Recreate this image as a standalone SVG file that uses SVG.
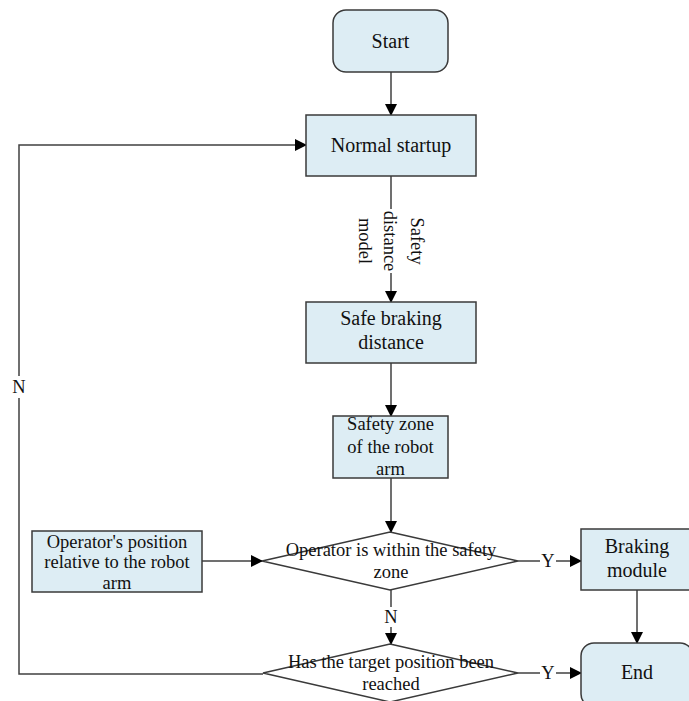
<svg xmlns="http://www.w3.org/2000/svg" width="689" height="701" viewBox="0 0 689 701">
<style>
.box{fill:#DDEDF4;stroke:#3a3a3a;stroke-width:1.5}
.dia{fill:#ffffff;stroke:#3a3a3a;stroke-width:1.5}
.ln{fill:none;stroke:#404040;stroke-width:1.5}
text{font-family:"Liberation Serif","Times New Roman",serif;fill:#111;text-anchor:middle}
.t20{font-size:20px}
.t18{font-size:18.5px}
.bg{fill:#ffffff}
</style>
<defs>
<marker id="ah" markerWidth="12" markerHeight="12" refX="11" refY="6" orient="auto" markerUnits="userSpaceOnUse">
<path d="M0,0 L12,6 L0,12 Z" fill="#000"/>
</marker>
</defs>
<rect width="689" height="701" fill="#ffffff"/>

<g id="connectors">
<line class="ln" x1="391" y1="72" x2="391" y2="115" marker-end="url(#ah)"/>
<line class="ln" x1="391" y1="176" x2="391" y2="302" marker-end="url(#ah)"/>
<line class="ln" x1="391" y1="363" x2="391" y2="416" marker-end="url(#ah)"/>
<line class="ln" x1="391" y1="478" x2="391" y2="532" marker-end="url(#ah)"/>
<line class="ln" x1="202" y1="561" x2="262" y2="561" marker-end="url(#ah)"/>
<line class="ln" x1="518" y1="561" x2="581" y2="561" marker-end="url(#ah)"/>
<line class="ln" x1="391" y1="590" x2="391" y2="644" marker-end="url(#ah)"/>
<line class="ln" x1="518" y1="673" x2="581" y2="673" marker-end="url(#ah)"/>
<line class="ln" x1="637" y1="590" x2="637" y2="643" marker-end="url(#ah)"/>
<polyline class="ln" points="263,674 19,674 19,145 306,145" marker-end="url(#ah)"/>
<g id="label-sdm" transform="translate(391,241) rotate(90)">
<rect class="bg" x="-32" y="-8" width="64" height="18"/>
<text class="t18" x="0" y="-20">Safety</text>
<text class="t18" x="0" y="7">distance</text>
<text class="t18" x="0" y="32">model</text>
</g>
<rect class="bg" x="540" y="552" width="16" height="18"/>
<text class="t18" x="548" y="567">Y</text>
<rect class="bg" x="540" y="664" width="16" height="18"/>
<text class="t18" x="548" y="679">Y</text>
<rect class="bg" x="382" y="607" width="18" height="20"/>
<text class="t18" x="391" y="623">N</text>
<rect class="bg" x="10" y="376" width="18" height="22"/>
<text class="t18" x="19" y="393">N</text>
</g>

<g id="start">
<rect class="box" x="333" y="10" width="115" height="62" rx="13"/>
<text class="t20" x="390.5" y="48">Start</text>
</g>
<g id="normal-startup">
<rect class="box" x="306" y="115" width="170" height="61"/>
<text class="t20" x="391" y="152">Normal startup</text>
</g>
<g id="safe-braking-distance">
<rect class="box" x="306" y="302" width="170" height="61"/>
<text class="t20" x="391" y="325">Safe braking</text>
<text class="t20" x="391" y="349">distance</text>
</g>
<g id="safety-zone">
<rect class="box" x="333" y="416" width="115" height="62"/>
<text class="t18" x="390.5" y="430">Safety zone</text>
<text class="t18" x="390.5" y="452.5">of the robot</text>
<text class="t18" x="390.5" y="475">arm</text>
</g>
<g id="operator-position">
<rect class="box" x="32" y="531" width="170" height="61"/>
<text class="t18" x="117" y="548">Operator's position</text>
<text class="t18" x="117" y="568">relative to the robot</text>
<text class="t18" x="117" y="589">arm</text>
</g>
<g id="decision-within-zone">
<polygon class="dia" points="390,532 518,561 390,590 262,561"/>
<text class="t18" x="391" y="556">Operator is within the safety</text>
<text class="t18" x="391" y="578">zone</text>
</g>
<g id="braking-module">
<rect class="box" x="581" y="529" width="112" height="61"/>
<text class="t20" x="637" y="553">Braking</text>
<text class="t20" x="637" y="577">module</text>
</g>
<g id="decision-target">
<polygon class="dia" points="390,644 518,673 390,702 263,673"/>
<text class="t18" x="391" y="668">Has the target position been</text>
<text class="t18" x="391" y="690">reached</text>
</g>
<g id="end">
<rect class="box" x="581" y="643" width="112" height="64" rx="13"/>
<text class="t20" x="637" y="679">End</text>
</g>
</svg>
